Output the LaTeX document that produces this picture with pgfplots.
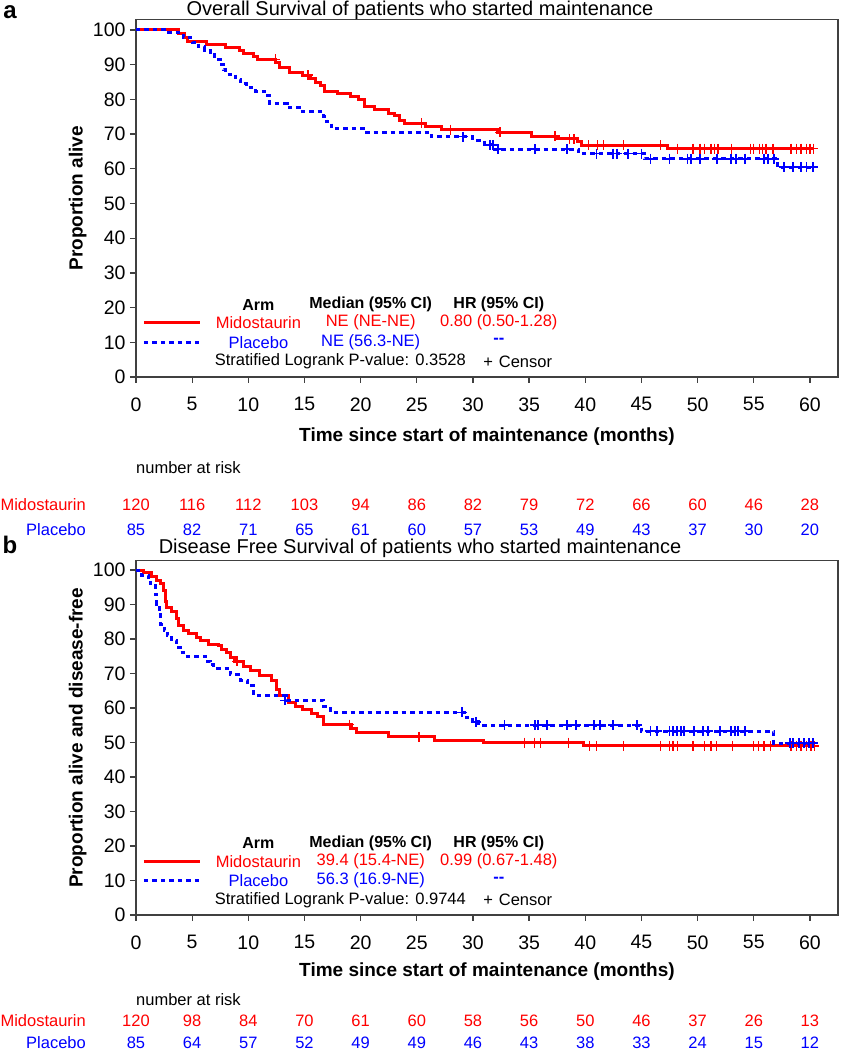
\documentclass[border=0pt]{standalone}
\usepackage{fontspec}
\setmainfont{Liberation Sans}
\usepackage{pgfplots}
\pgfplotsset{compat=1.18}
\definecolor{kmred}{RGB}{255,0,0}
\definecolor{kmblue}{RGB}{0,0,255}
\newcommand{\fs}[1]{\fontsize{#1}{#1}\selectfont}
\pgfplotsset{
  kmaxis/.style={
    scale only axis, width=702pt, xmin=0, xmax=62.5, ymin=0,
    xtick={0,5,...,60}, ytick={0,10,...,100},
    xtick pos=bottom, ytick pos=left,
    tick align=outside, major tick length=6pt,
    axis line style={draw=black!75, line width=1.3pt},
    every tick/.style={black!75, line width=1.3pt},
    tick label style={font=\fs{19.5}},
    xticklabel style={yshift=-11pt},
    yticklabel style={xshift=-1pt},
    /pgf/number format/assume math mode=true,
    clip=false,
    ylabel style={font=\bfseries\fs{19}, at={(axis description cs:-0.083,0.5)}, anchor=center},
  },
  redkm/.style={const plot, kmred, line width=3pt},
  bluekm/.style={const plot, kmblue, line width=3pt, dash pattern=on 4.5pt off 4pt},
  redc/.style={only marks, mark=+, mark size=5pt, kmred, mark options={line width=1.4pt}},
  bluec/.style={only marks, mark=+, mark size=5pt, kmblue, mark options={line width=1.8pt}},
  risk/.style={draw=none, mark=none, nodes near coords, point meta=explicit symbolic,
    every node near coord/.style={anchor=center, font=\fs{16.5}, text=#1}},
}
\begin{document}
\begin{tikzpicture}
\useasboundingbox (0,0) rectangle (844pt,1050pt);
% ---------------- Panel a ----------------
\begin{axis}[kmaxis, at={(136pt,673pt)}, height=357.4pt, ymax=103,
  ylabel={Proportion alive}]
\addplot[redkm] table {
x y
0 100
3.8 99
4.3 97.8
4.6 96.7
6.3 95.9
8.0 95.0
9.2 94.0
9.6 93.3
10.5 92.4
10.8 91.5
12.4 90.6
12.8 89.2
13.7 87.8
14.8 87.0
15.5 86.0
16.0 85.0
16.4 84.0
16.8 82.4
17.9 81.6
19.1 80.8
19.8 80.0
20.3 78.0
21.2 77.2
22.5 76.0
23.0 75.3
23.5 74.0
23.9 73.1
25.8 72.2
27.2 71.3
32.2 70.5
35.2 69.4
37.4 68.6
39.3 67.8
39.7 66.8
47.3 65.8
60.4 65.8
};
\addplot[bluekm] table {
x y
0 100
2.7 99.2
4.2 97.7
5.0 96.3
5.6 95.2
6.1 94.0
6.6 92.8
7.0 91.5
7.5 90.0
7.8 88.5
8.0 87.2
8.9 85.8
9.3 84.5
9.8 83.5
10.6 82.4
11.7 81.0
11.9 78.8
13.5 77.6
14.6 76.4
16.7 75.0
17.0 73.5
17.4 71.6
20.4 70.5
26.3 69.3
30.0 68.2
31.0 66.9
31.7 65.6
39.4 64.4
45.3 62.9
57.1 60.5
60.4 60.5
};
\addplot[redc] table {
x y
12.4 91.5
15.3 87.0
25.4 73.1
28.0 71.3
32.4 70.5
37.3 69.4
38.6 68.6
39.0 68.6
40.3 66.8
41.1 66.8
41.6 66.8
43.4 66.8
46.7 66.8
48.2 65.8
49.6 65.8
50.2 65.8
50.6 65.8
51.2 65.8
51.5 65.8
51.8 65.8
53.0 65.8
54.7 65.8
55.0 65.8
55.5 65.8
55.8 65.8
56.1 65.8
56.7 65.8
58.3 65.8
58.8 65.8
59.2 65.8
59.7 65.8
60.0 65.8
60.3 65.8
};
\addplot[bluec] table {
x y
29.1 69.3
31.5 66.9
31.8 66.9
32.2 65.6
35.5 65.6
38.4 65.6
41.0 64.4
42.5 64.4
42.8 64.4
43.8 64.4
45.0 64.4
45.8 62.9
47.5 62.9
49.1 62.9
49.4 62.9
50.2 62.9
51.7 62.9
53.0 62.9
53.4 62.9
54.2 62.9
55.9 62.9
56.3 62.9
56.8 62.9
57.7 60.5
58.5 60.5
59.2 60.5
59.7 60.5
60.3 60.5
};
% legend block
\node[font=\bfseries\fs{16}] at (axis cs:10.9,20.8) {Arm};
\node[font=\bfseries\fs{16}] at (axis cs:20.9,20.8) {Median (95\% CI)};
\node[font=\bfseries\fs{16}] at (axis cs:32.3,20.8) {HR (95\% CI)};
\draw[kmred, line width=3pt] (axis cs:0.7,15.7) -- (axis cs:5.7,15.7);
\draw[kmblue, line width=3pt, dash pattern=on 4.5pt off 4pt] (axis cs:0.7,10) -- (axis cs:5.7,10);
\node[font=\fs{16.5}, text=kmred] at (axis cs:10.9,15.7) {Midostaurin};
\node[font=\fs{16.5}, text=kmred] at (axis cs:20.9,15.7) {NE (NE-NE)};
\node[font=\fs{16.5}, text=kmred] at (axis cs:32.3,15.7) {0.80 (0.50-1.28)};
\node[font=\fs{16.5}, text=kmblue] at (axis cs:10.9,10) {Placebo};
\node[font=\fs{16.5}, text=kmblue] at (axis cs:20.9,10) {NE (56.3-NE)};
\node[font=\bfseries\fs{16.5}, text=kmblue] at (axis cs:32.3,10.3) {-{}-};
\node[font=\fs{16.5}, anchor=west, inner sep=0pt] at (axis cs:7.0,4.5) {Stratified Logrank P-value: 0.3528};
\node[font=\fs{16.5}, anchor=west, inner sep=0pt] at (axis cs:30.9,4.5) {+\hspace{6pt}Censor};
% x label and risk table
\node[font=\bfseries\fs{19}] at (axis cs:31.25,-17.3) {Time since start of maintenance (months)};
\node[font=\fs{16.5}, anchor=west, inner sep=0pt] at (axis cs:0,-26.2) {number at risk};
\node[font=\fs{16.5}, anchor=east, inner sep=0pt, text=kmred] at (axis cs:-4.45,-36.9) {Midostaurin};
\node[font=\fs{16.5}, anchor=east, inner sep=0pt, text=kmblue] at (axis cs:-4.45,-44.1) {Placebo};
\addplot[risk=kmred] table[meta=n] {
x y n
0 -36.9 120
5 -36.9 116
10 -36.9 112
15 -36.9 103
20 -36.9 94
25 -36.9 86
30 -36.9 82
35 -36.9 79
40 -36.9 72
45 -36.9 66
50 -36.9 60
55 -36.9 46
60 -36.9 28
};
\addplot[risk=kmblue] table[meta=n] {
x y n
0 -44.1 85
5 -44.1 82
10 -44.1 71
15 -44.1 65
20 -44.1 61
25 -44.1 60
30 -44.1 57
35 -44.1 53
40 -44.1 49
45 -44.1 43
50 -44.1 37
55 -44.1 30
60 -44.1 20
};
\end{axis}
% ---------------- Panel b ----------------
\begin{axis}[kmaxis, at={(136pt,135pt)}, height=354.3pt, ymax=102.7,
  ylabel={Proportion alive and disease-free}]
\addplot[redkm] table {
x y
0 100
0.65 99.3
1.4 98.0
1.85 97.0
2.15 96.0
2.45 94.0
2.6 91.0
2.75 89.2
3.2 88.0
3.65 86.0
3.8 84.0
4.2 82.5
4.7 81.5
5.4 80.5
5.7 79.7
6.45 78.5
7.35 78.0
7.65 77.0
8.1 76.0
8.4 74.6
8.8 73.5
9.6 72.0
10.2 71.0
11.0 69.5
12.1 68.0
12.5 65.5
12.8 63.5
13.6 61.5
14.2 60.5
14.8 59.5
15.6 58.3
16.2 57.5
16.7 55.2
19.2 54.0
19.6 53.0
22.5 51.6
26.6 50.7
30.9 50.0
39.8 49.0
60.4 49.0
};
\addplot[bluekm] table {
x y
0 100
0.5 98.5
1.15 97.0
1.3 95.5
1.75 93.0
1.85 90.0
2.05 87.0
2.2 84.3
2.5 82.5
2.8 81.0
3.2 79.5
3.65 77.5
3.95 76.0
4.4 75.0
6.15 73.5
6.6 72.5
6.9 71.5
8.4 69.7
9.3 68.0
9.9 66.5
10.5 63.5
13.4 62.2
16.7 60.5
17.3 58.7
29.4 57.3
30.0 56.0
30.5 55.0
45.0 53.3
56.8 49.8
60.4 49.8
};
\addplot[redc] table {
x y
9.0 73.5
19.0 55.2
25.2 51.6
34.6 50.0
35.5 50.0
36.0 50.0
38.5 50.0
40.4 49.0
41.0 49.0
43.4 49.0
46.7 49.0
47.5 49.0
47.8 49.0
48.2 49.0
49.6 49.0
50.6 49.0
51.2 49.0
51.7 49.0
53.1 49.0
55.0 49.0
55.4 49.0
55.9 49.0
56.5 49.0
58.3 49.0
58.8 49.0
59.2 49.0
59.7 49.0
60.1 49.0
60.4 49.0
};
\addplot[bluec] table {
x y
13.3 62.2
29.0 58.7
30.3 56.0
32.8 55.0
35.5 55.0
35.8 55.0
36.6 55.0
38.4 55.0
39.2 55.0
40.8 55.0
41.3 55.0
42.5 55.0
44.6 55.0
45.8 53.3
46.4 53.3
47.5 53.3
47.8 53.3
48.2 53.3
48.5 53.3
48.8 53.3
49.7 53.3
50.5 53.3
50.9 53.3
52.0 53.3
53.0 53.3
53.3 53.3
53.6 53.3
54.2 53.3
58.2 49.8
58.5 49.8
59.0 49.8
59.5 49.8
59.9 49.8
60.3 49.8
};
\node[font=\bfseries\fs{16}] at (axis cs:10.9,20.8) {Arm};
\node[font=\bfseries\fs{16}] at (axis cs:20.9,20.8) {Median (95\% CI)};
\node[font=\bfseries\fs{16}] at (axis cs:32.3,20.8) {HR (95\% CI)};
\draw[kmred, line width=3pt] (axis cs:0.7,15.5) -- (axis cs:5.7,15.5);
\draw[kmblue, line width=3pt, dash pattern=on 4.5pt off 4pt] (axis cs:0.7,10) -- (axis cs:5.7,10);
\node[font=\fs{16.5}, text=kmred] at (axis cs:10.9,15.5) {Midostaurin};
\node[font=\fs{16.5}, text=kmred] at (axis cs:20.9,15.5) {39.4 (15.4-NE)};
\node[font=\fs{16.5}, text=kmred] at (axis cs:32.3,15.5) {0.99 (0.67-1.48)};
\node[font=\fs{16.5}, text=kmblue] at (axis cs:10.9,10) {Placebo};
\node[font=\fs{16.5}, text=kmblue] at (axis cs:20.9,10) {56.3 (16.9-NE)};
\node[font=\bfseries\fs{16.5}, text=kmblue] at (axis cs:32.3,10.3) {-{}-};
\node[font=\fs{16.5}, anchor=west, inner sep=0pt] at (axis cs:7.0,4.4) {Stratified Logrank P-value: 0.9744};
\node[font=\fs{16.5}, anchor=west, inner sep=0pt] at (axis cs:30.9,4.4) {+\hspace{6pt}Censor};
\node[font=\bfseries\fs{19}] at (axis cs:31.25,-16.5) {Time since start of maintenance (months)};
\node[font=\fs{16.5}, anchor=west, inner sep=0pt] at (axis cs:0,-24.6) {number at risk};
\node[font=\fs{16.5}, anchor=east, inner sep=0pt, text=kmred] at (axis cs:-4.45,-30.6) {Midostaurin};
\node[font=\fs{16.5}, anchor=east, inner sep=0pt, text=kmblue] at (axis cs:-4.45,-37.0) {Placebo};
\addplot[risk=kmred] table[meta=n] {
x y n
0 -30.6 120
5 -30.6 98
10 -30.6 84
15 -30.6 70
20 -30.6 61
25 -30.6 60
30 -30.6 58
35 -30.6 56
40 -30.6 50
45 -30.6 46
50 -30.6 37
55 -30.6 26
60 -30.6 13
};
\addplot[risk=kmblue] table[meta=n] {
x y n
0 -37.0 85
5 -37.0 64
10 -37.0 57
15 -37.0 52
20 -37.0 49
25 -37.0 49
30 -37.0 46
35 -37.0 43
40 -37.0 38
45 -37.0 33
50 -37.0 24
55 -37.0 15
60 -37.0 12
};
\end{axis}
% titles and panel letters
\node[font=\fs{20}] at (420pt,1040pt) {Overall Survival of patients who started maintenance};
\node[font=\fs{20}] at (420pt,502pt) {Disease Free Survival of patients who started maintenance};
\node[font=\bfseries\fs{24}] at (10pt,1038pt) {a};
\node[font=\bfseries\fs{24}] at (10pt,505pt) {b};
\end{tikzpicture}
\end{document}
